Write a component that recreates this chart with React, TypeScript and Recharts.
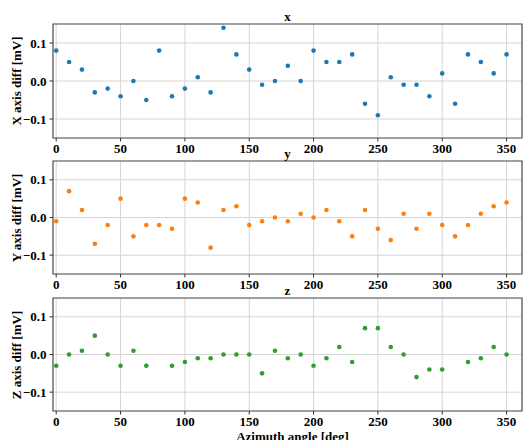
import { ScatterChart, Scatter, XAxis, YAxis, CartesianGrid, ReferenceArea } from 'recharts';

const azimuth = [0, 10, 20, 30, 40, 50, 60, 70, 80, 90, 100, 110, 120, 130, 140, 150, 160, 170, 180, 190, 200, 210, 220, 230, 240, 250, 260, 270, 280, 290, 300, 310, 320, 330, 340, 350];

const xDiff = [0.08, 0.05, 0.03, -0.03, -0.02, -0.04, 0.0, -0.05, 0.08, -0.04, -0.02, 0.01, -0.03, 0.14, 0.07, 0.03, -0.01, 0.0, 0.04, 0.0, 0.08, 0.05, 0.05, 0.07, -0.06, -0.09, 0.01, -0.01, -0.01, -0.04, 0.02, -0.06, 0.07, 0.05, 0.02, 0.07];
const yDiff = [-0.01, 0.07, 0.02, -0.07, -0.02, 0.05, -0.05, -0.02, -0.02, -0.03, 0.05, 0.04, -0.08, 0.02, 0.03, -0.02, -0.01, 0.0, -0.01, 0.01, 0.0, 0.02, -0.01, -0.05, 0.02, -0.03, -0.06, 0.01, -0.03, 0.01, -0.02, -0.05, -0.02, 0.01, 0.03, 0.04];
const zDiff = [-0.03, 0.0, 0.01, 0.05, 0.0, -0.03, 0.01, -0.03, null, -0.03, -0.02, -0.01, -0.01, 0.0, 0.0, 0.0, -0.05, 0.01, -0.01, 0.0, -0.03, -0.01, 0.02, -0.02, 0.07, 0.07, 0.02, 0.0, -0.06, -0.04, -0.04, null, -0.02, -0.01, 0.02, 0.0];

const xTicks = [0, 50, 100, 150, 200, 250, 300, 350];
const yTicks = [-0.1, 0, 0.1];

const FONT = '"Liberation Serif", "Times New Roman", serif';
const X_DOMAIN: [number, number] = [-2.5, 362];
const Y_DOMAIN: [number, number] = [-0.15, 0.15];

const fmtY = (v: number) => (v < 0 ? '\u2212' : '') + Math.abs(v).toFixed(1);

const panels = [
  { title: 'x', ylabel: 'X axis diff [mV]', values: xDiff, color: '#1f77b4', plotTop: 24, plotBottom: 138 },
  { title: 'y', ylabel: 'Y axis diff [mV]', values: yDiff, color: '#ff7f0e', plotTop: 161, plotBottom: 274 },
  { title: 'z', ylabel: 'Z axis diff [mV]', values: zDiff, color: '#2ca02c', plotTop: 298, plotBottom: 411 },
];

const PLOT_LEFT = 53;
const PLOT_RIGHT = 522;
const W = 531;

const textStyle = { fontFamily: FONT, fontSize: 13, fontWeight: 700 as const, fill: '#000' };

function XTick({ x, y, payload }: any) {
  return (
    <text x={x} y={y + 9} textAnchor="middle" style={textStyle}>
      {payload.value}
    </text>
  );
}

function YTick({ x, y, payload }: any) {
  return (
    <text x={x - 1} y={y + 4.5} textAnchor="end" style={textStyle}>
      {fmtY(payload.value)}
    </text>
  );
}

function Panel({ p, last }: { p: (typeof panels)[number]; last: boolean }) {
  const data = azimuth
    .map((a, i) => ({ a, v: p.values[i] }))
    .filter((d) => d.v !== null && d.v !== undefined);
  const topPad = 24;
  const plotH = p.plotBottom - p.plotTop;
  const axisH = 28;
  const h = topPad + plotH + axisH;
  const midY = p.plotTop + plotH / 2;
  return (
    <>
      <div style={{ position: 'absolute', left: 0, top: p.plotTop - topPad, width: W, height: h }}>
        <ScatterChart width={W} height={h} margin={{ top: topPad, right: W - PLOT_RIGHT, bottom: 0, left: 0 }}>
          <CartesianGrid stroke="#d6d6d6" strokeWidth={1} />
          <XAxis
            type="number"
            dataKey="a"
            domain={X_DOMAIN}
            ticks={xTicks}
            allowDataOverflow
            height={axisH}
            axisLine={false}
            tickSize={3.5}
            tickMargin={2}
            tickLine={{ stroke: '#333' }}
            tick={<XTick />}
            interval={0}
          />
          <YAxis
            type="number"
            dataKey="v"
            domain={Y_DOMAIN}
            ticks={yTicks}
            allowDataOverflow
            width={PLOT_LEFT}
            axisLine={false}
            tickSize={3.5}
            tickMargin={2}
            tickLine={{ stroke: '#333' }}
            tick={<YTick />}
            interval={0}
          />
          <ReferenceArea x1={X_DOMAIN[0]} x2={X_DOMAIN[1]} y1={Y_DOMAIN[0]} y2={Y_DOMAIN[1]} fill="none" stroke="#555" strokeWidth={1.2} />
          <Scatter
            data={data}
            fill={p.color}
            isAnimationActive={false}
            shape={(s: any) => <circle cx={s.cx} cy={s.cy} r={2.3} fill={p.color} />}
          />
        </ScatterChart>
      </div>
      <div
        style={{
          position: 'absolute', left: PLOT_LEFT, width: PLOT_RIGHT - PLOT_LEFT, top: p.plotTop - 14, height: 14,
          lineHeight: '14px', textAlign: 'center', fontFamily: FONT, fontWeight: 'bold', fontSize: 13,
        }}
      >
        {p.title}
      </div>
      <div
        style={{
          position: 'absolute', left: 17 - 60, top: midY - 8, width: 120, height: 16, lineHeight: '16px',
          textAlign: 'center', fontFamily: FONT, fontWeight: 'bold', fontSize: 13, transform: 'rotate(-90deg)',
          whiteSpace: 'nowrap',
        }}
      >
        {p.ylabel}
      </div>
      {last && (
        <div
          style={{
            position: 'absolute', left: PLOT_LEFT + 5, width: PLOT_RIGHT - PLOT_LEFT, top: 430, height: 14, lineHeight: '14px',
            textAlign: 'center', fontFamily: FONT, fontWeight: 'bold', fontSize: 13,
          }}
        >
          Azimuth angle [deg]
        </div>
      )}
    </>
  );
}

export default function App() {
  return (
    <div style={{ position: 'absolute', left: 0, top: 0, width: W, height: 440, overflow: 'hidden', background: '#fff', fontFamily: FONT }}>
      {panels.map((p, i) => (
        <Panel key={p.title} p={p} last={i === panels.length - 1} />
      ))}
    </div>
  );
}
